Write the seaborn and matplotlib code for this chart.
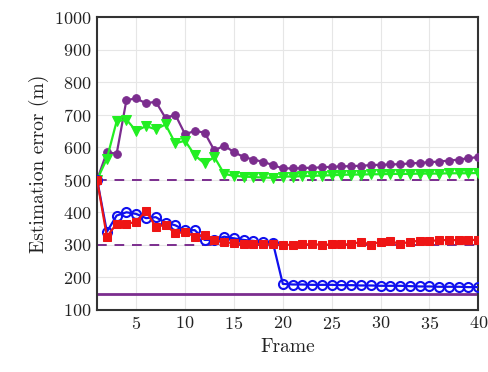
import numpy as np
import pandas as pd
import matplotlib
matplotlib.use("Agg")
import matplotlib.pyplot as plt
import seaborn as sns

frames = list(range(1, 41))
purple_vals = [500, 585, 580, 745, 750, 735, 740, 690, 700, 640,
               650, 645, 590, 605, 585, 570, 562, 555, 545, 535,
               535, 536, 537, 538, 540, 541, 542, 543, 545, 546,
               547, 548, 550, 552, 554, 556, 559, 562, 566, 570]
green_vals = [500, 565, 680, 685, 650, 665, 655, 670, 612, 620,
              575, 550, 570, 518, 512, 510, 508, 507, 506, 510,
              510, 511, 512, 513, 514, 515, 516, 516, 517, 517,
              518, 518, 518, 519, 519, 519, 520, 520, 520, 521]
blue_vals = [500, 340, 390, 400, 395, 382, 385, 368, 360, 345,
             345, 315, 315, 325, 320, 315, 312, 310, 305, 180,
             178, 178, 177, 177, 177, 176, 176, 175, 175, 174,
             174, 174, 173, 172, 172, 171, 171, 171, 170, 170]
red_vals = [500, 325, 365, 365, 370, 405, 355, 362, 335, 340,
            325, 330, 315, 308, 305, 303, 302, 302, 301, 300,
            300, 301, 302, 300, 301, 302, 301, 310, 300, 310,
            312, 302, 310, 312, 312, 314, 315, 314, 315, 315]
ref_dashed_hi = 500
ref_dashed_lo = 300
ref_solid = 150

df = pd.DataFrame({"frame": frames, "purple": purple_vals, "green": green_vals,
                   "blue": blue_vals, "red": red_vals})

sns.set_theme(style="whitegrid")
plt.rcParams['font.family'] = ['cmr10', 'DejaVu Serif']
plt.rcParams['axes.formatter.use_mathtext'] = True

fig = plt.figure(figsize=(4.88, 3.72), dpi=100)
ax = fig.add_axes([0.199, 0.167, 0.781, 0.787])

ref_c = "#7B2D8E"
ax.axhline(ref_solid, color=ref_c, lw=2, zorder=1)
ax.axhline(ref_dashed_hi, color=ref_c, lw=1.4, ls=(0, (5, 4)), zorder=1)
ax.axhline(ref_dashed_lo, color=ref_c, lw=1.4, ls=(0, (5, 4)), zorder=1)

sns.lineplot(data=df, x="frame", y="purple", ax=ax, color="#7B2D8E", marker="o",
             markersize=5.5, markeredgecolor="#7B2D8E", lw=1.6, zorder=3)
sns.lineplot(data=df, x="frame", y="green", ax=ax, color="#22EE22", marker="v",
             markersize=7, markeredgecolor="#22EE22", lw=1.6, zorder=3)
sns.lineplot(data=df, x="frame", y="blue", ax=ax, color="#1010EE", marker="o",
             markersize=6.5, markerfacecolor="none", markeredgecolor="#1010EE",
             markeredgewidth=1.5, lw=1.6, zorder=4)
sns.lineplot(data=df, x="frame", y="red", ax=ax, color="#EE1515", marker="s",
             markersize=5.5, markeredgecolor="#EE1515", lw=1.6, zorder=4)

ax.set_xlim(1, 40)
ax.set_ylim(100, 1000)
ax.set_xticks([5, 10, 15, 20, 25, 30, 35, 40])
ax.set_yticks(range(100, 1001, 100))
ax.grid(True, color="#E6E6E6", lw=0.8)
for s in ax.spines.values():
    s.set_color("#333333")
    s.set_linewidth(1.5)
ax.tick_params(axis="both", labelsize=13, colors="#222222", length=0, pad=4)
ax.set_xlabel("Frame", fontsize=14, color="#222222")
ax.set_ylabel("Estimation error (m)", fontsize=14, color="#222222")

fig.savefig("out.png", dpi=100)
